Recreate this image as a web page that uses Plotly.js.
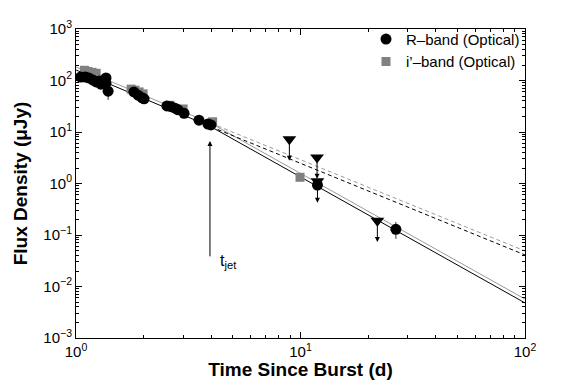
<!DOCTYPE html>
<html><head><meta charset="utf-8">
<script src="https://cdn.plot.ly/plotly-3.0.1.min.js"></script>
<style>html,body{margin:0;padding:0;background:#fff}</style>
</head><body><div id="chart" style="width:581px;height:380px"></div>
<script>
// R-band detections (days, microJy)
const rT = [1.05, 1.10, 1.14, 1.19, 1.23, 1.27, 1.29, 1.36, 1.36, 1.39, 1.81, 1.89, 1.97, 2.01, 2.54, 2.65, 2.76, 2.85, 3.03, 3.53, 3.87, 3.99, 11.9, 26.6];
const rF = [117, 117, 112, 102, 94, 98, 85, 112, 88, 62, 60, 52, 46, 44, 32, 31, 29, 27, 23, 17, 14.3, 13.7, 0.93, 0.129];
const rErrPlus  = [0, 0, 0, 0, 0, 0, 0, 0, 0, 0, 0, 0, 0, 0, 0, 0, 0, 0, 0, 0, 0, 0, 0, 0.05];
const rErrMinus = [0, 0, 0, 0, 10, 22, 0, 0, 0, 20, 0, 0, 0, 0, 0, 0, 0, 0, 0, 0, 0, 0, 0, 0.045];
// i'-band detections
const iT = [1.09, 1.13, 1.18, 1.23, 1.76, 1.83, 1.91, 1.99, 2.62, 3.00, 4.06, 9.95];
const iF = [158, 150, 144, 138, 68, 65, 60, 55, 33, 28, 15.8, 1.32];
// upper limits (R-band)
const ulT = [8.92, 11.85, 11.9, 22.0];
const ulF = [7.2, 3.2, 1.1, 0.19];
const ulArrowFactor = 2.6;
// model lines
const solidT = [1, 4.0, 100];
const blackSolid = [160, 12.6, 0.0048];
const graySolid = [183, 14.7, 0.0057];
const dashT = [4.0, 100];
const blackDash = [12.6, 0.041];
const grayDash = [14.7, 0.049];
// jet break marker
const tJet = 3.95;
const tJetArrow = [0.036, 6.7];
// tick labels
const xTickVals = [1, 10, 100];
const xTickText = ['10<sup>0</sup>', '10<sup>1</sup>', '10<sup>2</sup>'];
const yTickVals = [0.001, 0.01, 0.1, 1, 10, 100, 1000];
const yTickText = ['10<sup>\u22123</sup>', '10<sup>\u22122</sup>', '10<sup>\u22121</sup>', '10<sup>0</sup>', '10<sup>1</sup>', '10<sup>2</sup>', '10<sup>3</sup>'];

const FONT = 'Liberation Sans, Arial, Helvetica, sans-serif';

const traces = [
  {x: solidT, y: graySolid, mode: 'lines', line: {color: '#9a9a9a', width: 1}, showlegend: false, hoverinfo: 'skip'},
  {x: solidT, y: blackSolid, mode: 'lines', line: {color: '#000', width: 1}, showlegend: false, hoverinfo: 'skip'},
  {x: dashT, y: grayDash, mode: 'lines', line: {color: '#9a9a9a', width: 1, dash: '4px,3px'}, showlegend: false, hoverinfo: 'skip'},
  {x: dashT, y: blackDash, mode: 'lines', line: {color: '#000', width: 1, dash: '4px,3px'}, showlegend: false, hoverinfo: 'skip'},
  {x: iT, y: iF, mode: 'markers', name: 'i\u2019\u2013band (Optical)',
   marker: {symbol: 'square', size: 9, color: '#808080'}},
  {x: rT, y: rF, mode: 'markers', name: 'R\u2013band (Optical)',
   marker: {symbol: 'circle', size: 11, color: '#000'},
   error_y: {type: 'data', symmetric: false, array: rErrPlus, arrayminus: rErrMinus, color: '#333', thickness: 1, width: 0}},
  {x: ulT, y: ulF, mode: 'markers', showlegend: false,
   marker: {symbol: 'triangle-down', size: 12, color: '#000'}}
];

const annotations = ulT.map((t, i) => ({
  x: Math.log10(t), y: Math.log10(ulF[i] / ulArrowFactor), xref: 'x', yref: 'y',
  ax: Math.log10(t), ay: Math.log10(ulF[i]), axref: 'x', ayref: 'y',
  showarrow: true, arrowhead: 2, arrowsize: 1, arrowwidth: 1, arrowcolor: '#000', text: ''
}));
annotations.push({
  x: Math.log10(tJet), y: Math.log10(tJetArrow[1]), xref: 'x', yref: 'y',
  ax: Math.log10(tJet), ay: Math.log10(tJetArrow[0]), axref: 'x', ayref: 'y',
  showarrow: true, arrowhead: 2, arrowsize: 1, arrowwidth: 1, arrowcolor: '#000', text: ''
});
annotations.push({
  x: Math.log10(tJet), y: Math.log10(tJetArrow[0]), xref: 'x', yref: 'y',
  text: 't<sub>jet</sub>', showarrow: false, xanchor: 'left', yanchor: 'middle',
  xshift: 8, yshift: -4, font: {family: FONT, size: 16, color: '#000'}
});

const axisCommon = {
  type: 'log', showgrid: false, zeroline: false, showline: true, linecolor: '#000', linewidth: 1,
  mirror: 'ticks', ticks: 'inside', ticklen: 6, tickcolor: '#000',
  tickmode: 'array', tickfont: {family: FONT, size: 15, color: '#000'},
  minor: {ticks: 'inside', ticklen: 3, tickcolor: '#000', dtick: 'D1', showgrid: false}
};

const layout = {
  width: 581, height: 380,
  margin: {l: 76, r: 56, t: 29, b: 42},
  paper_bgcolor: '#fff', plot_bgcolor: '#fff',
  showlegend: true,
  legend: {x: 1, y: 1.02, xanchor: 'right', yanchor: 'top', bgcolor: 'rgba(0,0,0,0)',
           font: {family: FONT, size: 15, color: '#000'}, traceorder: 'reversed',
           itemwidth: 30, tracegroupgap: 0},
  xaxis: Object.assign({}, axisCommon, {range: [0, 2], tickvals: xTickVals, ticktext: xTickText,
    title: {text: '<b>Time Since Burst (d)</b>', font: {family: FONT, size: 19, color: '#000'}, standoff: 2}}),
  yaxis: Object.assign({}, axisCommon, {range: [-3, 3], tickvals: yTickVals, ticktext: yTickText,
    title: {text: '<b>Flux Density (\u03bcJy)</b>', font: {family: FONT, size: 19, color: '#000'}, standoff: 10}}),
  annotations: annotations
};

Plotly.newPlot('chart', traces, layout, {displayModeBar: false, staticPlot: true});
</script></body></html>
